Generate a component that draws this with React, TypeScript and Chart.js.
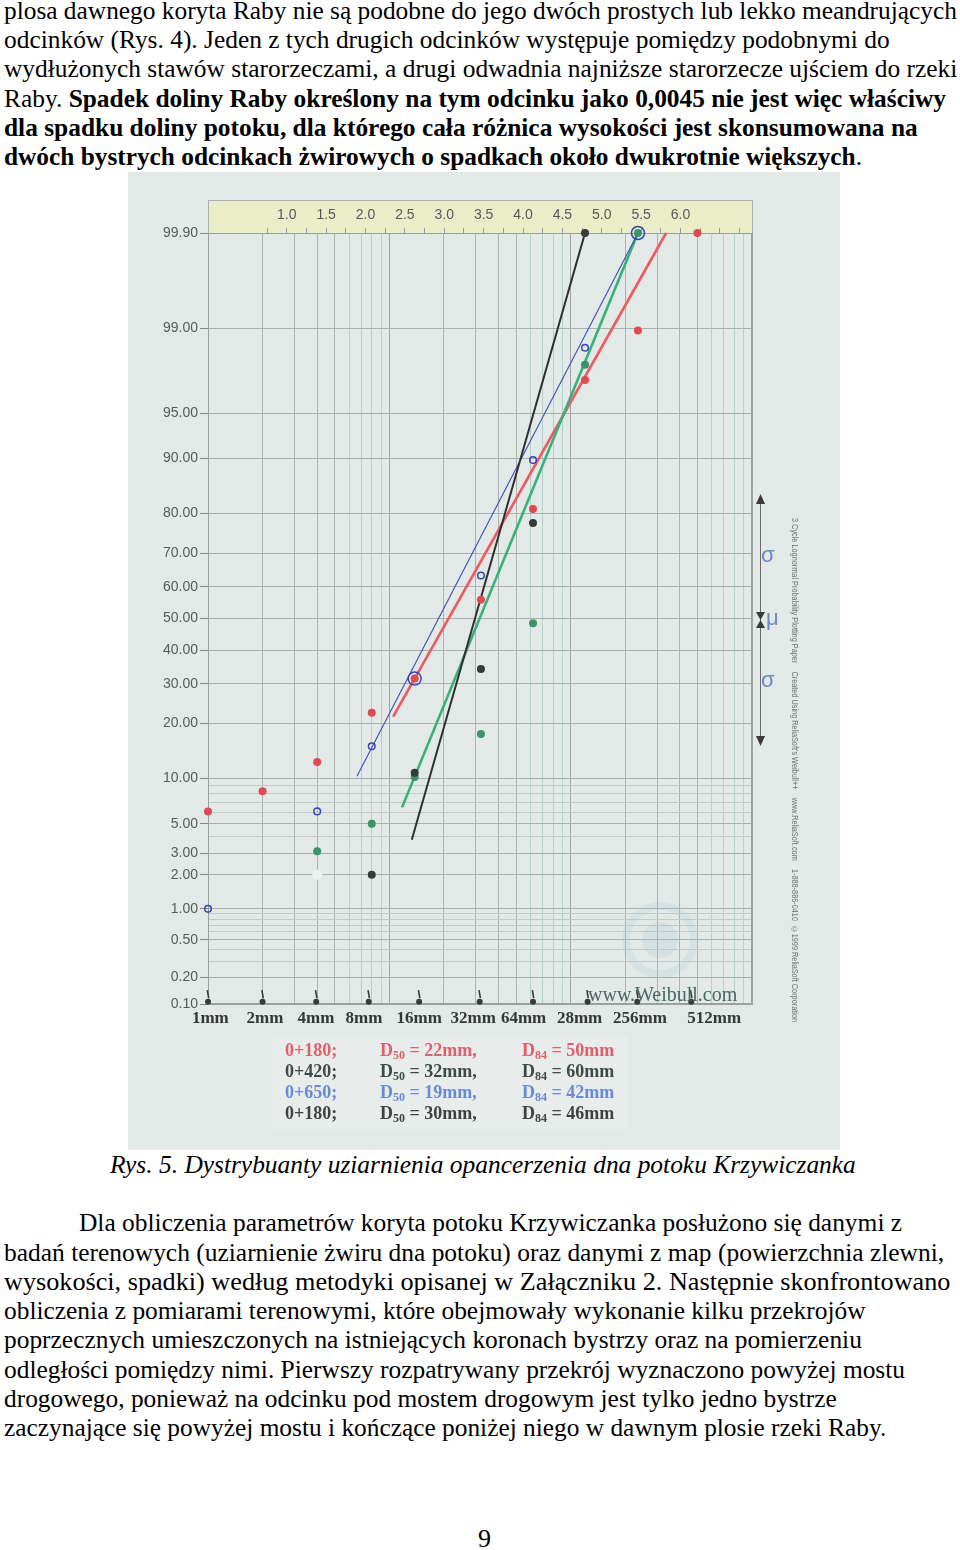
import React, { useEffect, useLayoutEffect, useRef, useState } from 'react';
import { Chart, registerables } from 'chart.js';

Chart.register(...registerables);

if (typeof document !== 'undefined') {
  document.body.style.margin = '0';
  document.documentElement.style.overflow = 'hidden';
}

// ---------------- data ----------------
// probability axis (cumulative %, lognormal probability paper)
const probTickValues = [0.1, 0.2, 0.5, 1, 2, 3, 5, 10, 20, 30, 40, 50, 60, 70, 80, 90, 95, 99, 99.9];
const probMinorLines = [0.3, 0.4, 0.6, 0.7, 0.8, 0.9, 4, 6, 7, 8, 9];

// paper grid (3-cycle log), sizes in mm
const gridSizes = [1, 2, 3, 4, 5, 6, 7, 8, 9, 10, 20, 30, 40, 50, 60, 70, 80, 90, 100, 200, 300, 400, 500, 600, 700, 800, 900, 1000];

// hand-written size labels under the axis
const sizeLabels = ['1mm', '2mm', '4mm', '8mm', '16mm', '32mm', '64mm', '28mm', '256mm', '512mm'];
const sizeLabelPos = [1.03, 2.06, 3.94, 7.24, 14.6, 29, 55, 112, 241, 619];
const handTickSizes = [1, 2, 3.95, 7.7, 14.6, 31.5, 62, 124, 233, 462];

// top ln scale of the paper
const lnTicks = [0.75, 1, 1.25, 1.5, 1.75, 2, 2.25, 2.5, 2.75, 3, 3.25, 3.5, 3.75, 4, 4.25, 4.5, 4.75, 5, 5.25, 5.5, 5.75, 6, 6.25, 6.5, 6.75];
const lnTickLabels = ['', '1.0', '', '1.5', '', '2.0', '', '2.5', '', '3.0', '', '3.5', '', '4.0', '', '4.5', '', '5.0', '', '5.5', '', '6.0', '', '', ''];

// sample 0+180 (red)
const redSizes = [1, 2, 4, 8, 13.8, 32, 62, 120, 235, 500];
const redPct = [6.1, 8.3, 12.5, 22.5, 31.5, 56, 81, 97.2, 98.95, 99.9];
// sample 0+420 (green)
const greenSizes = [4, 8, 13.8, 32, 62, 120, 235];
const greenPct = [3.1, 5.0, 10.2, 17.7, 48.5, 97.9, 99.9];
// sample 0+650 (blue, open circles)
const blueSizes = [1, 4, 8, 13.8, 32, 62, 120, 235];
const bluePct = [1.0, 6.1, 15.3, 31.5, 63.5, 89.8, 98.5, 99.9];
// sample 0+180 (black)
const blackSizes = [8, 13.8, 32, 62, 120];
const blackPct = [2.0, 10.8, 34.3, 77.8, 99.9];
// faded (erased) point
const fadedSizes = [4];
const fadedPct = [2.0];

// fitted lines (end points)
const redFitSizes = [10.5, 336];
const redFitPct = [21.6, 99.9];
const greenFitSizes = [11.75, 235];
const greenFitPct = [6.5, 99.9];
const blueFitSizes = [6.63, 235];
const blueFitPct = [10.3, 99.9];
const blackFitSizes = [13.3, 120];
const blackFitPct = [3.8, 99.9];

// legend table
const stations = ['0+180;', '0+420;', '0+650;', '0+180;'];
const d50 = [22, 32, 19, 30];
const d84 = [50, 60, 42, 46];

// ---------------- page text ----------------
const topLines: { w: number; parts: [string, boolean][] }[] = [
  { w: 953, parts: [['plosa dawnego koryta Raby nie są podobne do jego dwóch prostych lub lekko meandrujących', false]] },
  { w: 886, parts: [['odcinków (Rys. 4). Jeden z tych drugich odcinków występuje pomiędzy podobnymi do', false]] },
  { w: 953, parts: [['wydłużonych stawów starorzeczami, a drugi odwadnia najniższe starorzecze ujściem do rzeki', false]] },
  { w: 942, parts: [['Raby. ', false], ['Spadek doliny Raby określony na tym odcinku jako 0,0045 nie jest więc właściwy', true]] },
  { w: 914, parts: [['dla spadku doliny potoku, dla którego cała różnica wysokości jest skonsumowana na', true]] },
  { w: 858, parts: [['dwóch bystrych odcinkach żwirowych o spadkach około dwukrotnie większych', true], ['.', false]] },
];
const topBase = [20, 49, 78, 108, 137, 166];

const bottomLines = [
  { x: 79, w: 823, t: 'Dla obliczenia parametrów koryta potoku Krzywiczanka posłużono się danymi z' },
  { x: 4, w: 940, t: 'badań terenowych (uziarnienie żwiru dna potoku) oraz danymi z map (powierzchnia zlewni,' },
  { x: 4, w: 946, t: 'wysokości, spadki) według metodyki opisanej w Załączniku 2. Następnie skonfrontowano' },
  { x: 4, w: 862, t: 'obliczenia z pomiarami terenowymi, które obejmowały wykonanie kilku przekrojów' },
  { x: 4, w: 858, t: 'poprzecznych umieszczonych na istniejących koronach bystrzy oraz na pomierzeniu' },
  { x: 4, w: 901, t: 'odległości pomiędzy nimi. Pierwszy rozpatrywany przekrój wyznaczono powyżej mostu' },
  { x: 4, w: 833, t: 'drogowego, ponieważ na odcinku pod mostem drogowym jest tylko jedno bystrze' },
  { x: 4, w: 882, t: 'zaczynające się powyżej mostu i kończące poniżej niego w dawnym plosie rzeki Raby.' },
];
const bottomBase = [1232, 1262, 1291, 1320, 1349, 1379, 1408, 1437];

const serif = "'Liberation Serif', 'Times New Roman', Times, serif";
const sans = "'Liberation Sans', Arial, sans-serif";
const TEXT_SIZE = 26;

// inverse standard normal CDF (Acklam), input in percent
function probit(pct: number): number {
  const p = pct / 100;
  const a = [-39.69683028665376, 220.9460984245205, -275.9285104469687, 138.357751867269, -30.66479806614716, 2.506628277459239];
  const b = [-54.47609879822406, 161.5858368580409, -155.6989798598866, 66.80131188771972, -13.28068155288572];
  const c = [-0.007784894002430293, -0.3223964580411365, -2.400758277161838, -2.549732539343734, 4.374664141464968, 2.938163982698783];
  const d = [0.007784695709041462, 0.3224671290700398, 2.445134137142996, 3.754408661907416];
  const pl = 0.02425;
  if (p < pl) {
    const q = Math.sqrt(-2 * Math.log(p));
    return (((((c[0] * q + c[1]) * q + c[2]) * q + c[3]) * q + c[4]) * q + c[5]) / ((((d[0] * q + d[1]) * q + d[2]) * q + d[3]) * q + 1);
  }
  if (p <= 1 - pl) {
    const q = p - 0.5;
    const r = q * q;
    return ((((((a[0] * r + a[1]) * r + a[2]) * r + a[3]) * r + a[4]) * r + a[5]) * q) / (((((b[0] * r + b[1]) * r + b[2]) * r + b[3]) * r + b[4]) * r + 1);
  }
  const q = Math.sqrt(-2 * Math.log(1 - p));
  return -(((((c[0] * q + c[1]) * q + c[2]) * q + c[3]) * q + c[4]) * q + c[5]) / ((((d[0] * q + d[1]) * q + d[2]) * q + d[3]) * q + 1);
}

const FIG_X = 128;
const FIG_Y = 172;
const FIG_W = 712;
const FIG_H = 978;
const FIG_BG = '#e2e9e6';

function FitLine({ x, base, w, size = TEXT_SIZE, italic = false, children }: any) {
  const ref = useRef<HTMLDivElement>(null);
  const [sx, setSx] = useState(1);
  useLayoutEffect(() => {
    const el = ref.current;
    if (!el || !w) return;
    const nat = el.scrollWidth;
    if (nat > 0) setSx(w / nat);
  }, [w]);
  return (
    <div
      ref={ref}
      style={{
        position: 'absolute',
        left: x,
        top: base - 0.8375 * size,
        fontSize: size,
        lineHeight: 1,
        fontFamily: serif,
        fontStyle: italic ? 'italic' : 'normal',
        whiteSpace: 'pre',
        color: '#000',
        transform: `scaleX(${sx})`,
        transformOrigin: 'left top',
      }}
    >
      {children}
    </div>
  );
}

function FitVertical({ x, y, h, size, children }: any) {
  const ref = useRef<HTMLDivElement>(null);
  const [sy, setSy] = useState(1);
  useLayoutEffect(() => {
    const el = ref.current;
    if (!el) return;
    const nat = el.scrollHeight;
    if (nat > 0) setSy(h / nat);
  }, [h]);
  return (
    <div
      ref={ref}
      style={{
        position: 'absolute',
        left: x,
        top: y,
        writingMode: 'vertical-rl',
        fontSize: size,
        lineHeight: 1,
        fontFamily: sans,
        color: '#6f7472',
        whiteSpace: 'pre',
        transform: `scaleY(${sy})`,
        transformOrigin: 'left top',
      }}
    >
      {children}
    </div>
  );
}

function ChartFigure() {
  const canvasRef = useRef<HTMLCanvasElement>(null);

  useEffect(() => {
    const canvas = canvasRef.current;
    if (!canvas) return;

    const pts = (xs: number[], ps: number[]) => xs.map((x, i) => ({ x, y: probit(ps[i]) }));
    const yTicks = [
      ...probTickValues.map((p) => ({ p, label: p.toFixed(2), major: true })),
      ...probMinorLines.map((p) => ({ p, label: '', major: false })),
    ];

    const gridColorX = (v: number) => {
      if (v === undefined) return '#b0ccc8';
      const lead = Math.round(v / Math.pow(10, Math.floor(Math.log10(v) + 1e-9)));
      if (lead === 1) return '#9aa5a2';
      if (lead <= 5) return '#a9b4b1';
      return '#b2d0cc';
    };

    const P = (x: number, y: number): [number, number] => [x - FIG_X, y - FIG_Y];

    const bgPlugin = {
      id: 'bgPlugin',
      beforeDraw(chart: any) {
        const { ctx, chartArea } = chart;
        ctx.save();
        ctx.fillStyle = FIG_BG;
        ctx.fillRect(0, 0, chart.width, chart.height);
        // lighter legend panel
        const [lx, ly] = P(272, 1037);
        ctx.fillStyle = '#e8edeb';
        ctx.fillRect(lx, ly, 356, 92);
        // yellow band with the ln scale
        ctx.fillStyle = '#eaedc8';
        ctx.fillRect(chartArea.left, chartArea.top - 33, chartArea.right - chartArea.left, 33);
        ctx.strokeStyle = '#a9b0ad';
        ctx.lineWidth = 1;
        ctx.strokeRect(chartArea.left + 0.5, chartArea.top - 32.5, chartArea.right - chartArea.left, 33);
        ctx.restore();
      },
      beforeDatasetsDraw(chart: any) {
        const { ctx, chartArea } = chart;
        ctx.save();
        // faint watermark seal
        const [wx, wy] = P(660, 940);
        ctx.strokeStyle = 'rgba(170,196,214,0.22)';
        ctx.lineWidth = 8;
        ctx.beginPath();
        ctx.arc(wx, wy, 34, 0, Math.PI * 2);
        ctx.stroke();
        ctx.fillStyle = 'rgba(165,192,214,0.2)';
        ctx.beginPath();
        ctx.arc(wx, wy, 18, 0, Math.PI * 2);
        ctx.fill();
        // plot frame
        ctx.strokeStyle = '#98a19e';
        ctx.lineWidth = 1;
        ctx.strokeRect(chartArea.left + 0.5, chartArea.top + 0.5, chartArea.right - chartArea.left - 1, chartArea.bottom - chartArea.top - 1);
        ctx.restore();
      },
      afterDraw(chart: any) {
        const { ctx } = chart;
        ctx.save();
        const [ax, a0] = P(760, 497);
        const [, a1] = P(760, 744);
        ctx.strokeStyle = '#6a6a6a';
        ctx.lineWidth = 1;
        ctx.beginPath();
        ctx.moveTo(ax + 0.5, a0);
        ctx.lineTo(ax + 0.5, a1);
        ctx.stroke();
        ctx.fillStyle = '#3a3a3a';
        const tri = (tx: number, ty: number, by: number) => {
          ctx.beginPath();
          ctx.moveTo(tx + 0.5, ty);
          ctx.lineTo(tx - 4, by);
          ctx.lineTo(tx + 5, by);
          ctx.closePath();
          ctx.fill();
        };
        const [, t0] = P(760, 494);
        const [, m0] = P(760, 620);
        const [, b0] = P(760, 746);
        tri(ax, t0, t0 + 10);
        tri(ax, m0, m0 - 8);
        tri(ax, m0, m0 + 8);
        tri(ax, b0, b0 - 10);
        ctx.restore();
      },
    };

    const chart = new Chart(canvas, {
      type: 'scatter',
      data: {
        datasets: [
          { label: 'fit 0+180', data: pts(redFitSizes, redFitPct), showLine: true, borderColor: '#ee5a60', borderWidth: 2.6, pointRadius: 0, order: 9, clip: false } as any,
          { label: 'fit 0+420', data: pts(greenFitSizes, greenFitPct), showLine: true, borderColor: '#38b07a', borderWidth: 2.6, pointRadius: 0, order: 8, clip: false },
          { label: 'fit 0+650', data: pts(blueFitSizes, blueFitPct), showLine: true, borderColor: '#3d4db5', borderWidth: 1.1, pointRadius: 0, order: 7, clip: false },
          { label: 'fit 0+180 b', data: pts(blackFitSizes, blackFitPct), showLine: true, borderColor: '#2f2f2f', borderWidth: 2, pointRadius: 0, order: 6, clip: false },
          { label: 'faded', data: pts(fadedSizes, fadedPct), backgroundColor: '#eef1ef', borderWidth: 0, pointRadius: 5, order: 5, clip: false },
          { label: '0+180', data: pts(redSizes, redPct), backgroundColor: '#de4b52', borderWidth: 0, pointRadius: 4, order: 4, clip: false },
          { label: '0+420', data: pts(greenSizes, greenPct), backgroundColor: '#3a936a', borderWidth: 0, pointRadius: 4, order: 3, clip: false },
          { label: '0+180 b', data: pts(blackSizes, blackPct), backgroundColor: '#383a39', borderWidth: 0, pointRadius: 4, order: 2, clip: false },
          {
            label: '0+650',
            data: pts(blueSizes, bluePct),
            backgroundColor: 'rgba(0,0,0,0)',
            borderColor: '#3446b5',
            borderWidth: 1.5,
            pointRadius: (c: any) => (c.dataIndex === 3 || c.dataIndex === 7 ? 6.5 : 3.3),
            order: 1,
            clip: false,
          },
          {
            label: 'axis dots',
            data: handTickSizes.map((x) => ({ x, y: probit(0.106) })),
            backgroundColor: '#3a3a3a',
            borderWidth: 0,
            pointRadius: 3,
            order: 0,
            clip: false,
          },
          {
            label: 'axis strokes',
            data: handTickSizes.map((x) => ({ x, y: probit(0.13) })),
            pointStyle: 'line',
            rotation: 80,
            borderColor: '#3a3a3a',
            borderWidth: 1.6,
            pointRadius: 4,
            order: 0,
            clip: false,
          },
        ],
      },
      options: {
        responsive: false,
        animation: false,
        events: [],
        devicePixelRatio: 1,
        layout: { padding: { left: 0, right: 88, top: 0, bottom: 0 }, autoPadding: false } as any,
        plugins: { legend: { display: false }, tooltip: { enabled: false } },
        scales: {
          x: {
            type: 'logarithmic',
            position: 'bottom',
            min: 1,
            max: 1000,
            afterBuildTicks: (s: any) => {
              s.ticks = gridSizes.map((v) => ({ value: v }));
            },
            afterFit: (s: any) => {
              s.height = 0;
            },
            ticks: { display: false },
            grid: { color: (c: any) => gridColorX(c.tick?.value), lineWidth: 1, drawTicks: false },
            border: { display: true, color: '#98a19e' },
          },
          xl: {
            type: 'logarithmic',
            position: 'bottom',
            min: 1,
            max: 1000,
            afterBuildTicks: (s: any) => {
              s.ticks = sizeLabelPos.map((v) => ({ value: v }));
            },
            afterFit: (s: any) => {
              s.height = 146;
            },
            ticks: {
              autoSkip: false,
              maxRotation: 0,
              minRotation: 0,
              padding: 4,
              color: '#363838',
              font: { family: serif, size: 17, weight: 'bold' },
              callback: (_v: any, i: number) => sizeLabels[i],
            },
            grid: { display: false, drawTicks: false },
            border: { display: false },
          },
          x2: {
            type: 'logarithmic',
            position: 'top',
            min: 1,
            max: 1000,
            afterBuildTicks: (s: any) => {
              s.ticks = lnTicks.map((l) => ({ value: Math.exp(l) }));
            },
            afterFit: (s: any) => {
              s.height = 61;
            },
            ticks: {
              autoSkip: false,
              maxRotation: 0,
              minRotation: 0,
              padding: 4,
              color: '#585a59',
              font: { family: sans, size: 14 },
              callback: (_v: any, i: number) => lnTickLabels[i],
            },
            grid: { drawOnChartArea: false, drawTicks: true, tickLength: 5, tickColor: '#959e9b' },
            border: { display: true, color: '#98a19e' },
          },
          y: {
            type: 'linear',
            min: probit(0.1),
            max: probit(99.9),
            afterBuildTicks: (s: any) => {
              s.ticks = yTicks.map((t) => ({ value: probit(t.p) }));
            },
            afterFit: (s: any) => {
              s.width = 80;
            },
            ticks: {
              autoSkip: false,
              padding: 2,
              color: '#595b5a',
              font: { family: sans, size: 14 },
              callback: (_v: any, i: number) => yTicks[i].label,
            },
            grid: {
              color: (c: any) => (yTicks[c.index]?.major ? '#a8b1ae' : '#c0cbc8'),
              tickLength: 8,
              tickColor: (c: any) => (yTicks[c.index]?.major ? '#7f8784' : 'rgba(0,0,0,0)'),
            },
            border: { display: true, color: '#98a19e' },
          },
        },
      } as any,
      plugins: [bgPlugin],
    });

    return () => chart.destroy();
  }, []);

  return (
    <canvas
      ref={canvasRef}
      width={FIG_W}
      height={FIG_H}
      style={{ position: 'absolute', left: FIG_X, top: FIG_Y, width: FIG_W, height: FIG_H, display: 'block' }}
    />
  );
}

const legendColors = ['#e05f6a', '#3d4c45', '#6a89d6', '#3f4442'];
const legendBase = [1056, 1077, 1098, 1119];

export default function App() {
  return (
    <div style={{ position: 'relative', width: 960, height: 1550, background: '#fff', overflow: 'hidden', fontFamily: serif }}>
      {topLines.map((ln, i) => (
        <FitLine key={'t' + i} x={4} base={topBase[i]} w={ln.w}>
          {ln.parts.map(([t, b], j) => (b ? <b key={j} style={{ fontWeight: 700 }}>{t}</b> : <span key={j}>{t}</span>))}
        </FitLine>
      ))}

      <ChartFigure />

      {/* legend table */}
      {stations.map((s, i) => {
        const st = {
          position: 'absolute' as const,
          top: legendBase[i] - 15,
          fontFamily: serif,
          fontWeight: 700,
          fontSize: 18,
          lineHeight: 1,
          whiteSpace: 'pre' as const,
          color: legendColors[i],
        };
        const sub = { fontSize: 12, verticalAlign: '-3px' };
        return (
          <React.Fragment key={'lg' + i}>
            <div style={{ ...st, left: 285 }}>{s}</div>
            <div style={{ ...st, left: 380 }}>
              D<span style={sub}>50</span> = {d50[i]}mm,
            </div>
            <div style={{ ...st, left: 522 }}>
              D<span style={sub}>84</span> = {d84[i]}mm
            </div>
          </React.Fragment>
        );
      })}

      {/* www.Weibull.com */}
      <div style={{ position: 'absolute', left: 588, top: 984, fontFamily: serif, fontSize: 20, lineHeight: 1, color: '#4a6863', whiteSpace: 'pre' }}>
        www.Weibull.com
      </div>

      {/* sigma / mu marks */}
      <div style={{ position: 'absolute', left: 761, top: 544, fontFamily: sans, fontSize: 22, lineHeight: 1, color: '#6e86cc' }}>σ</div>
      <div style={{ position: 'absolute', left: 766, top: 607, fontFamily: sans, fontSize: 22, lineHeight: 1, color: '#6e86cc' }}>μ</div>
      <div style={{ position: 'absolute', left: 761, top: 669, fontFamily: sans, fontSize: 22, lineHeight: 1, color: '#6e86cc' }}>σ</div>

      <FitVertical x={790} y={518} h={504} size={8.5}>
        {"3 Cycle Lognormal Probability Plotting Paper    Created Using ReliaSoft's Weibull++    www.ReliaSoft.com    1-888-886-0410  ©1999 ReliaSoft Corporation"}
      </FitVertical>

      <FitLine x={110} base={1174} w={746} italic>
        Rys. 5. Dystrybuanty uziarnienia opancerzenia dna potoku Krzywiczanka
      </FitLine>

      {bottomLines.map((ln, i) => (
        <FitLine key={'b' + i} x={ln.x} base={bottomBase[i]} w={ln.w}>
          {ln.t}
        </FitLine>
      ))}

      <div style={{ position: 'absolute', left: 478, top: 1548 - 22, fontFamily: serif, fontSize: TEXT_SIZE, lineHeight: 1 }}>9</div>
    </div>
  );
}
